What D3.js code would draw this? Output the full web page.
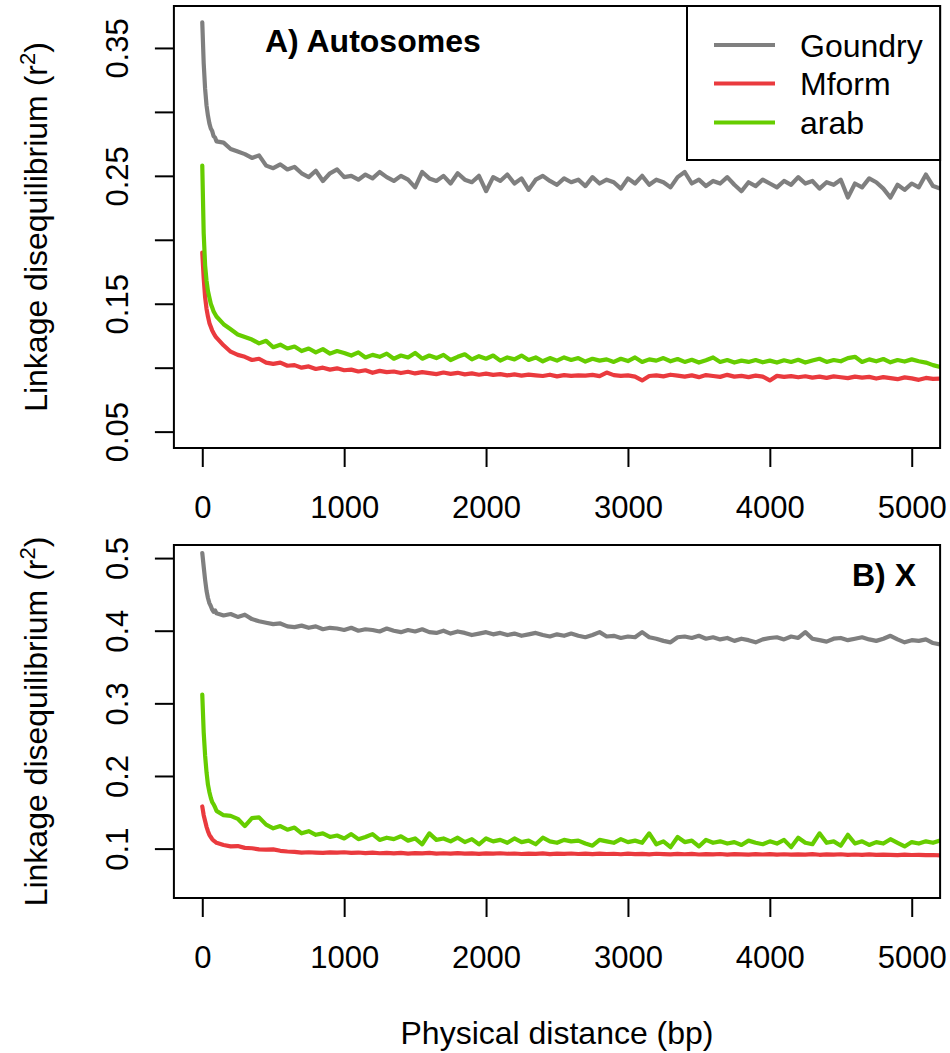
<!DOCTYPE html>
<html>
<head>
<meta charset="utf-8">
<script src="https://cdn.jsdelivr.net/npm/d3@7"></script>
<style>
  html, body { margin: 0; padding: 0; background: #fff; }
  svg { display: block; }
  text { font-family: "Liberation Sans", Arial, Helvetica, sans-serif; fill: #000; }
</style>
</head>
<body>
<svg id="chart" width="950" height="1053"></svg>
<script>
// ---------------- DATA ----------------
const distance = [
  0,10,20,30,40,50,60,70,80,90,
  100,150,200,250,300,350,400,450,500,550,
  600,650,700,750,800,850,900,950,1000,1050,
  1100,1150,1200,1250,1300,1350,1400,1450,1500,1550,
  1600,1650,1700,1750,1800,1850,1900,1950,2000,2050,
  2100,2150,2200,2250,2300,2350,2400,2450,2500,2550,
  2600,2650,2700,2750,2800,2850,2900,2950,3000,3050,
  3100,3150,3200,3250,3300,3350,3400,3450,3500,3550,
  3600,3650,3700,3750,3800,3850,3900,3950,4000,4050,
  4100,4150,4200,4250,4300,4350,4400,4450,4500,4550,
  4600,4650,4700,4750,4800,4850,4900,4950,5000,5050,
  5100,5150,5200
];

// Panel A: Autosomes
const goundryA = [
  0.370,0.338,0.318,0.305,0.297,0.291,0.287,0.285,0.281,0.280,
  0.277,0.276,0.271,0.269,0.267,0.264,0.266,0.258,0.256,0.259,
  0.255,0.257,0.252,0.249,0.254,0.246,0.252,0.255,0.249,0.250,
  0.247,0.251,0.248,0.253,0.249,0.246,0.250,0.247,0.241,0.253,
  0.248,0.246,0.250,0.244,0.252,0.247,0.245,0.250,0.238,0.249,
  0.246,0.251,0.244,0.248,0.239,0.247,0.250,0.246,0.243,0.248,
  0.245,0.247,0.242,0.249,0.244,0.247,0.245,0.240,0.248,0.244,
  0.250,0.243,0.247,0.245,0.241,0.249,0.253,0.244,0.247,0.242,
  0.246,0.244,0.249,0.243,0.238,0.245,0.242,0.247,0.244,0.241,
  0.246,0.243,0.249,0.244,0.246,0.240,0.245,0.243,0.247,0.233,
  0.244,0.241,0.248,0.245,0.240,0.233,0.243,0.239,0.244,0.241,
  0.251,0.242,0.240
];
const mformA = [
  0.190,0.170,0.155,0.146,0.140,0.135,0.132,0.129,0.127,0.125,
  0.1235,0.1175,0.1125,0.1100,0.1085,0.1060,0.1070,0.1040,0.1030,0.1040,
  0.1015,0.1020,0.1000,0.1010,0.0990,0.1000,0.0985,0.0995,0.0980,0.0985,
  0.0970,0.0980,0.0960,0.0975,0.0965,0.0970,0.0958,0.0968,0.0955,0.0965,
  0.0958,0.0950,0.0962,0.0952,0.0960,0.0948,0.0955,0.0945,0.0953,0.0944,
  0.0950,0.0940,0.0948,0.0938,0.0946,0.0940,0.0935,0.0945,0.0932,0.0942,
  0.0936,0.0940,0.0938,0.0944,0.0934,0.0962,0.0942,0.0936,0.0940,0.0930,
  0.0900,0.0935,0.0940,0.0932,0.0945,0.0938,0.0930,0.0940,0.0926,0.0942,
  0.0935,0.0928,0.0944,0.0930,0.0936,0.0926,0.0938,0.0930,0.0900,0.0936,
  0.0928,0.0934,0.0925,0.0933,0.0922,0.0930,0.0920,0.0932,0.0925,0.0918,
  0.0930,0.0922,0.0928,0.0915,0.0926,0.0918,0.0910,0.0924,0.0916,0.0905,
  0.0920,0.0912,0.0915
];
const arabA = [
  0.258,0.205,0.180,0.168,0.160,0.155,0.150,0.147,0.144,0.142,
  0.140,0.134,0.130,0.126,0.124,0.122,0.119,0.121,0.116,0.118,
  0.115,0.1165,0.113,0.115,0.112,0.1145,0.111,0.113,0.1115,0.1095,
  0.112,0.108,0.110,0.1085,0.111,0.107,0.1095,0.108,0.1115,0.107,
  0.1095,0.1075,0.110,0.106,0.1085,0.1105,0.1065,0.109,0.107,0.1095,
  0.1055,0.108,0.1065,0.1095,0.106,0.108,0.105,0.1075,0.1055,0.108,
  0.106,0.1075,0.1048,0.107,0.1055,0.1065,0.1045,0.107,0.1052,0.108,
  0.1045,0.1065,0.1055,0.1075,0.105,0.1068,0.1045,0.1062,0.104,0.1058,
  0.108,0.1045,0.106,0.104,0.1055,0.1045,0.106,0.1042,0.1055,0.104,
  0.1058,0.1045,0.1062,0.104,0.1056,0.107,0.1045,0.106,0.105,0.1075,
  0.1085,0.1045,0.1065,0.105,0.1068,0.1042,0.106,0.1048,0.1065,0.105,
  0.104,0.102,0.1005
];

// Panel B: X chromosome
const goundryX = [
  0.507,0.488,0.470,0.455,0.445,0.438,0.434,0.429,0.426,0.428,
  0.424,0.421,0.423,0.419,0.422,0.416,0.413,0.411,0.409,0.410,
  0.406,0.405,0.407,0.404,0.406,0.402,0.404,0.403,0.401,0.404,
  0.400,0.402,0.401,0.399,0.403,0.400,0.398,0.401,0.399,0.402,
  0.398,0.397,0.400,0.396,0.399,0.397,0.394,0.396,0.398,0.395,
  0.397,0.394,0.396,0.393,0.395,0.397,0.394,0.392,0.395,0.393,
  0.396,0.393,0.391,0.394,0.398,0.392,0.393,0.390,0.392,0.391,
  0.398,0.391,0.389,0.386,0.384,0.391,0.392,0.390,0.393,0.389,
  0.391,0.388,0.390,0.386,0.389,0.387,0.384,0.388,0.390,0.391,
  0.388,0.392,0.390,0.398,0.389,0.387,0.385,0.389,0.390,0.387,
  0.389,0.391,0.388,0.386,0.389,0.393,0.388,0.384,0.387,0.386,
  0.388,0.383,0.381
];
const mformX = [
  0.158,0.146,0.138,0.130,0.124,0.119,0.116,0.113,0.111,0.1095,
  0.108,0.105,0.103,0.1035,0.101,0.1005,0.099,0.0985,0.099,0.097,
  0.096,0.0955,0.0945,0.095,0.0945,0.094,0.0948,0.0945,0.095,0.0942,
  0.0946,0.0938,0.0944,0.0936,0.0942,0.0935,0.0940,0.0932,0.0938,0.0934,
  0.0940,0.0932,0.0936,0.0930,0.0938,0.0931,0.0935,0.0928,0.0934,0.0930,
  0.0936,0.0929,0.0933,0.0926,0.0932,0.0928,0.0934,0.0925,0.0931,0.0927,
  0.0933,0.0926,0.0930,0.0924,0.0932,0.0926,0.0929,0.0922,0.0930,0.0925,
  0.0928,0.0921,0.0929,0.0924,0.0920,0.0927,0.0922,0.0928,0.0919,0.0925,
  0.0921,0.0926,0.0918,0.0924,0.0920,0.0917,0.0923,0.0919,0.0925,0.0918,
  0.0922,0.0916,0.0921,0.0918,0.0924,0.0915,0.0920,0.0917,0.0922,0.0914,
  0.0919,0.0915,0.0920,0.0913,0.0918,0.0915,0.0911,0.0917,0.0912,0.0915,
  0.0910,0.0912,0.0906
];
const arabX = [
  0.312,0.260,0.228,0.205,0.188,0.178,0.170,0.164,0.161,0.157,
  0.152,0.146,0.145,0.141,0.131,0.142,0.143,0.133,0.128,0.131,
  0.126,0.129,0.121,0.124,0.119,0.121,0.116,0.118,0.114,0.120,
  0.113,0.116,0.120,0.112,0.115,0.113,0.117,0.111,0.114,0.106,
  0.121,0.112,0.114,0.110,0.115,0.109,0.113,0.106,0.114,0.110,
  0.112,0.108,0.114,0.109,0.111,0.106,0.115,0.110,0.108,0.112,
  0.110,0.111,0.107,0.104,0.112,0.110,0.108,0.113,0.109,0.111,
  0.108,0.121,0.106,0.110,0.102,0.116,0.109,0.111,0.103,0.112,
  0.108,0.110,0.107,0.109,0.105,0.111,0.108,0.106,0.110,0.107,
  0.112,0.102,0.115,0.108,0.106,0.121,0.108,0.110,0.104,0.119,
  0.107,0.110,0.105,0.109,0.107,0.113,0.108,0.103,0.109,0.107,
  0.110,0.108,0.111
];

const seriesNames = ["Goundry", "Mform", "arab"];
const seriesColors = ["#7f7f7f", "#ea3a3e", "#66cd00"];

const xTicks = [0, 1000, 2000, 3000, 4000, 5000];
const yTicksA = [0.05, 0.10, 0.15, 0.20, 0.25, 0.30, 0.35];
const yTickLabelsA = ["0.05", "", "0.15", "", "0.25", "", "0.35"];
const yTicksB = [0.1, 0.2, 0.3, 0.4, 0.5];
const yTickLabelsB = ["0.1", "0.2", "0.3", "0.4", "0.5"];

const xLabel = "Physical distance (bp)";
const yLabelMain = "Linkage disequilibrium (r";

// ---------------- DRAW ----------------
const svg = d3.select("#chart");
svg.append("rect").attr("width", 950).attr("height", 1053).attr("fill", "#fff");

const plotLeft = 173.9, plotRight = 940.1;
const x = d3.scaleLinear().domain([-200, 5200]).range([plotLeft, plotRight]);

const panels = [
  { id: "A", top: 6, bottom: 448, domain: [0.0372, 0.3828],
    series: [goundryA, mformA, arabA], ticks: yTicksA, labels: yTickLabelsA,
    title: "A) Autosomes", legend: true },
  { id: "B", top: 545, bottom: 898, domain: [0.032, 0.518],
    series: [goundryX, mformX, arabX], ticks: yTicksB, labels: yTickLabelsB,
    title: "B) X", legend: false }
];

panels.forEach(p => {
  const y = d3.scaleLinear().domain(p.domain).range([p.bottom, p.top]);
  const g = svg.append("g");

  const clipId = "clip" + p.id;
  svg.append("clipPath").attr("id", clipId)
    .append("rect").attr("x", plotLeft).attr("y", p.top)
    .attr("width", plotRight - plotLeft).attr("height", p.bottom - p.top);

  const line = d3.line().x((d, i) => x(distance[i])).y(d => y(d));
  const lg = g.append("g").attr("clip-path", `url(#${clipId})`);
  p.series.forEach((s, k) => {
    lg.append("path").datum(s)
      .attr("d", line)
      .attr("fill", "none")
      .attr("stroke", seriesColors[k])
      .attr("stroke-width", 4.2)
      .attr("stroke-linejoin", "round")
      .attr("stroke-linecap", "round");
  });

  g.append("rect").attr("x", plotLeft).attr("y", p.top)
    .attr("width", plotRight - plotLeft).attr("height", p.bottom - p.top)
    .attr("fill", "none").attr("stroke", "#000").attr("stroke-width", 2);

  const xa = g.append("g").attr("transform", `translate(0,${p.bottom})`)
    .call(d3.axisBottom(x).tickValues(xTicks).tickSize(19).tickSizeOuter(0).tickFormat(d3.format("d")));
  xa.select(".domain").remove();
  xa.selectAll(".tick line").attr("stroke", "#000").attr("stroke-width", 2);
  xa.selectAll(".tick text").attr("y", 70).attr("dy", 0)
    .attr("font-size", 31).attr("font-family", "Liberation Sans, Arial, sans-serif").attr("fill", "#000");

  const ya = g.append("g").attr("transform", `translate(${plotLeft},0)`)
    .call(d3.axisLeft(y).tickValues(p.ticks).tickSize(19).tickSizeOuter(0)
      .tickFormat((d, i) => p.labels[i]));
  ya.select(".domain").remove();
  ya.selectAll(".tick line").attr("stroke", "#000").attr("stroke-width", 2);
  ya.selectAll(".tick text")
    .attr("transform", "rotate(-90)")
    .attr("x", 0).attr("y", -46).attr("dy", 0)
    .attr("text-anchor", "middle")
    .attr("font-size", 31).attr("font-family", "Liberation Sans, Arial, sans-serif").attr("fill", "#000");

  const cy = (p.top + p.bottom) / 2;
  const yt = svg.append("text")
    .attr("transform", `translate(47,${cy}) rotate(-90)`)
    .attr("text-anchor", "middle")
    .attr("font-size", 32);
  yt.append("tspan").text(yLabelMain);
  yt.append("tspan").attr("dy", -12).attr("font-size", 22).text("2");
  yt.append("tspan").attr("dy", 12).text(")");

  if (p.id === "A") {
    svg.append("text").attr("x", 265).attr("y", 52)
      .attr("font-size", 32).attr("font-weight", "bold").text(p.title);
  } else {
    svg.append("text").attr("x", 916).attr("y", 586).attr("text-anchor", "end")
      .attr("font-size", 32).attr("font-weight", "bold").text(p.title);
  }

  if (p.legend) {
    const lgd = svg.append("g");
    lgd.append("rect").attr("x", 687).attr("y", p.top)
      .attr("width", plotRight - 687).attr("height", 160 - p.top)
      .attr("fill", "#fff").attr("stroke", "#000").attr("stroke-width", 2);
    const rowY = [45, 83.5, 122.5];
    seriesNames.forEach((name, k) => {
      lgd.append("line").attr("x1", 714).attr("x2", 775)
        .attr("y1", rowY[k]).attr("y2", rowY[k])
        .attr("stroke", seriesColors[k]).attr("stroke-width", 3.8);
      lgd.append("text").attr("x", 800).attr("y", rowY[k] + 11.5)
        .attr("font-size", 32).text(name);
    });
  }
});

svg.append("text").attr("x", (plotLeft + plotRight) / 2).attr("y", 1044)
  .attr("text-anchor", "middle").attr("font-size", 32).text(xLabel);
</script>
</body>
</html>
